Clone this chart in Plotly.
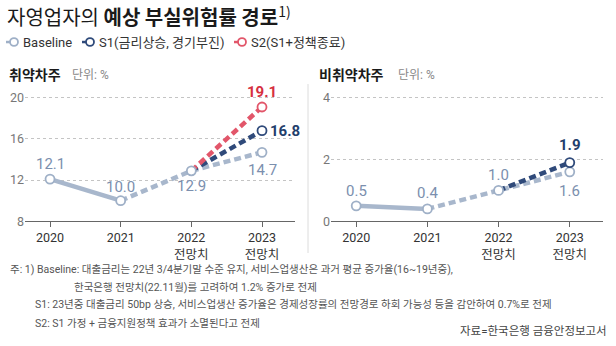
import plotly.graph_objects as go

W, H = 616, 346

# ---------------- data ----------------
years = ["2020", "2021", "2022", "2023"]
forecast_tag = ["", "", "전망치", "전망치"]
x_idx = [0, 1, 2, 3]

vul_baseline = [12.1, 10.0, 12.9, 14.7]
vul_s1 = [None, None, 12.9, 16.8]
vul_s2 = [None, None, 12.9, 19.1]

non_baseline = [0.5, 0.4, 1.0, 1.6]
non_s1 = [None, None, 1.0, 1.9]

series_names = ["Baseline", "S1(금리상승, 경기부진)", "S2(S1+정책종료)"]
vul_ticks = [8, 12, 16, 20]
non_ticks = [0, 2, 4]

# ---------------- style ----------------
C_BASE_LINE = "#a8b7cc"
C_BASE_MK = "#9fb0c7"
C_BASE_TXT = "#7b8fae"
C_S1 = "#2f4a7a"
C_S1_TXT = "#233e6c"
C_S2 = "#e2566a"
C_S2_TXT = "#d6303f"
FONT = "Roboto, Noto Sans CJK KR, sans-serif"
KFONT = "Noto Sans CJK KR, sans-serif"
DASH = "7px,4px"


def px(x):
    return x / W


def py(y):
    return 1 - y / H


def pts(xs, ys):
    px_, py_ = [], []
    for a, b in zip(xs, ys):
        if b is not None:
            px_.append(a)
            py_.append(b)
    return px_, py_


fig = go.Figure()


def add_panel(xa, ya, base, extra):
    # actual (solid)
    fig.add_trace(go.Scatter(x=x_idx[:2], y=base[:2], mode="lines",
                             line=dict(color=C_BASE_LINE, width=4.5),
                             xaxis=xa, yaxis=ya, showlegend=False, hoverinfo="skip"))
    # baseline forecast (dashed)
    fig.add_trace(go.Scatter(x=x_idx[1:], y=base[1:], mode="lines",
                             line=dict(color=C_BASE_LINE, width=4.5, dash=DASH),
                             xaxis=xa, yaxis=ya, showlegend=False, hoverinfo="skip"))
    for ser, col in extra:
        sx, sy = pts(x_idx, ser)
        fig.add_trace(go.Scatter(x=sx, y=sy, mode="lines",
                                 line=dict(color=col, width=4.5, dash=DASH),
                                 xaxis=xa, yaxis=ya, showlegend=False, hoverinfo="skip"))
    # markers
    fig.add_trace(go.Scatter(x=x_idx, y=base, mode="markers",
                             marker=dict(size=9, color="white",
                                         line=dict(color=C_BASE_MK, width=1.8)),
                             xaxis=xa, yaxis=ya, showlegend=False, hoverinfo="skip", cliponaxis=False))
    for ser, col in extra:
        sx, sy = pts(x_idx, ser)
        fig.add_trace(go.Scatter(x=sx[-1:], y=sy[-1:], mode="markers",
                                 marker=dict(size=9, color="white",
                                             line=dict(color=col, width=1.8)),
                                 xaxis=xa, yaxis=ya, showlegend=False, hoverinfo="skip", cliponaxis=False))


add_panel("x", "y", vul_baseline, [(vul_s1, C_S1), (vul_s2, C_S2)])
add_panel("x2", "y2", non_baseline, [(non_s1, C_S1)])

ticktext = [y if t == "" else f"{y}<br>{t}" for y, t in zip(years, forecast_tag)]

xcommon = dict(range=[-0.354, 3.467], tickmode="array", tickvals=x_idx, ticktext=ticktext,
               showline=True, linecolor="#666", linewidth=1, ticks="outside", ticklen=5,
               tickcolor="#666", showgrid=False, zeroline=False, fixedrange=True,
               tickfont=dict(family=FONT, size=12.5, color="#333"))
ycommon = dict(showline=False, ticks="", showgrid=True, gridcolor="#c4c4c4", griddash="dot",
               gridwidth=1, zeroline=False, fixedrange=True,
               tickfont=dict(family=FONT, size=12.5, color="#777"))

ydom = [py(225.5), py(92.7)]
fig.update_layout(
    width=W, height=H, margin=dict(l=0, r=0, t=0, b=0),
    paper_bgcolor="white", plot_bgcolor="white", showlegend=False,
    xaxis=dict(domain=[px(25), px(295)], anchor="y", **xcommon),
    xaxis2=dict(domain=[px(331), px(603)], anchor="y2", **xcommon),
    yaxis=dict(domain=ydom, anchor="x", range=[8, 20.6], tickvals=vul_ticks, **ycommon),
    yaxis2=dict(domain=ydom, anchor="x2", range=[0, 4.2], tickvals=non_ticks, **ycommon),
)

ann = []
# value labels: (xref, yref, values, index, color, bold, xanchor, xshift, yshift)
label_specs = [
    ("x", "y", vul_baseline, 0, C_BASE_TXT, False, "center", 0, 15),
    ("x", "y", vul_baseline, 1, C_BASE_TXT, False, "center", 0, 14),
    ("x", "y", vul_baseline, 2, C_BASE_TXT, False, "center", 0, -15),
    ("x", "y", vul_baseline, 3, C_BASE_TXT, False, "center", 0, -18),
    ("x", "y", vul_s1, 3, C_S1_TXT, True, "left", 6, 0),
    ("x", "y", vul_s2, 3, C_S2_TXT, True, "center", 0, 15),
    ("x2", "y2", non_baseline, 0, C_BASE_TXT, False, "center", 0, 15),
    ("x2", "y2", non_baseline, 1, C_BASE_TXT, False, "center", 0, 16),
    ("x2", "y2", non_baseline, 2, C_BASE_TXT, False, "center", 0, 15),
    ("x2", "y2", non_baseline, 3, C_BASE_TXT, False, "center", 0, -19),
    ("x2", "y2", non_s1, 3, C_S1_TXT, True, "center", 0, 18),
]
for xr, yr, vals, i, col, bold, xa, xs, ys in label_specs:
    v = vals[i]
    t = f"{v:.1f}"
    if bold:
        t = f"<b>{t}</b>"
    ann.append(dict(x=x_idx[i], y=v, xref=xr, yref=yr, text=t, showarrow=False, xanchor=xa,
                    xshift=xs, yshift=ys, font=dict(family=FONT, size=15, color=col)))

# title
ann.append(dict(x=px(5), y=py(15), xref="paper", yref="paper", xanchor="left", yanchor="middle",
                text="자영업자의 <b>예상 부실위험률 경로</b><sup>1)</sup>", showarrow=False,
                font=dict(family=KFONT, size=20, color="#1a1a1a")))

# legend (drawn)
leg_x = [14, 90, 242]
leg_cols = [C_BASE_MK, C_S1, C_S2]
leg_y = 42
shapes = []
for lx, name, col in zip(leg_x, series_names, leg_cols):
    shapes.append(dict(type="line", xref="paper", yref="paper", x0=px(lx - 8), x1=px(lx + 3),
                       y0=py(leg_y), y1=py(leg_y), line=dict(color=col, width=2.5)))
    shapes.append(dict(type="circle", xref="paper", yref="paper", x0=px(lx - 4), x1=px(lx + 4),
                       y0=py(leg_y - 4), y1=py(leg_y + 4), fillcolor="white",
                       line=dict(color=col, width=1.8)))
    ann.append(dict(x=px(lx + 7), y=py(leg_y), xref="paper", yref="paper", xanchor="left",
                    yanchor="middle", text=name, showarrow=False,
                    font=dict(family=FONT, size=13, color="#333")))

# panel subtitles
for sx, title, ux in [(7, "취약차주", 70), (317, "비취약차주", 396)]:
    ann.append(dict(x=px(sx), y=py(75), xref="paper", yref="paper", xanchor="left", yanchor="middle",
                    text=f"<b>{title}</b>", showarrow=False,
                    font=dict(family=KFONT, size=14, color="#1a1a1a")))
    ann.append(dict(x=px(ux), y=py(76), xref="paper", yref="paper", xanchor="left", yanchor="middle",
                    text="단위: %", showarrow=False,
                    font=dict(family=FONT, size=12, color="#888")))

# separator
shapes.append(dict(type="line", xref="paper", yref="paper", x0=px(308), x1=px(308),
                   y0=py(85), y1=py(258), line=dict(color="#dcdcdc", width=1)))

# footnotes
notes = [
    (8, 275, "주: 1) Baseline: 대출금리는 22년 3/4분기말 수준 유지, 서비스업생산은 과거 평균 증가율(16~19년중),"),
    (72, 293, "한국은행 전망치(22.11월)를 고려하여 1.2% 증가로 전제"),
    (33, 311, "S1: 23년중 대출금리 50bp 상승, 서비스업생산 증가율은 경제성장률의 전망경로 하회 가능성 등을 감안하여 0.7%로 전제"),
    (33, 330, "S2: S1 가정 + 금융지원정책 효과가 소멸된다고 전제"),
]
for nx, ny, t in notes:
    ann.append(dict(x=px(nx), y=py(ny), xref="paper", yref="paper", xanchor="left", yanchor="middle",
                    text=t, showarrow=False, font=dict(family=FONT, size=10.5, color="#555")))
ann.append(dict(x=px(609), y=py(338), xref="paper", yref="paper", xanchor="right", yanchor="middle",
                text="자료=한국은행 금융안정보고서", showarrow=False,
                font=dict(family=FONT, size=11.5, color="#444")))

fig.update_layout(annotations=ann, shapes=shapes)
fig.write_html("out.html")
